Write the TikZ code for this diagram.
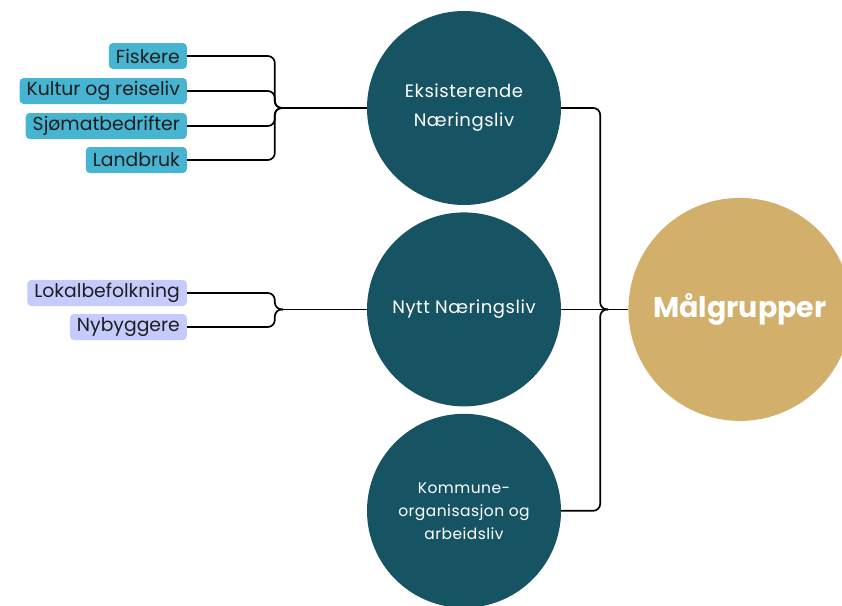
\documentclass[tikz,border=0pt]{standalone}
\usepackage{fontspec}
\setmainfont{Poppins}
\usetikzlibrary{positioning}
\usepackage{xcolor}
\definecolor{petrol}{HTML}{175463}
\definecolor{sand}{HTML}{D2B06C}
\definecolor{sky}{HTML}{47B4D1}
\definecolor{lilac}{HTML}{C5CCFD}
\definecolor{ink}{HTML}{1E1E1E}

\begin{document}
\begin{tikzpicture}[
        x=1pt, y=-1pt,
        node distance=7pt,
        font=\fontsize{18}{29}\selectfont\addfontfeature{LetterSpace=3},
        % Styles
        group/.style={
            circle,
            fill=petrol,
            text=white,
            inner sep=0pt,
            minimum size=194pt,
            align=center
          },
        target/.style={
            circle,
            fill=sand,
            text=white,
            inner sep=0pt,
            minimum size=223pt,
            font=\fontsize{28.5}{30}\selectfont\bfseries
          },
        tag/.style={
            rectangle,
            rounded corners=4pt,
            fill=sky,
            text=ink,
            anchor=east,
            inner xsep=7pt,
            inner ysep=0pt,
            minimum height=26pt,
            font=\fontsize{18.8}{20}\selectfont
          },
        link/.style={
            draw=black,
            line width=1.7pt,
            rounded corners=7pt
          }
      ]
      \useasboundingbox (0,0) rectangle (842,605);

      % Nodes
      % Groups (Middle)
      \node[group] (eks) at (464,108) {Eksisterende \\ Næringsliv};
      \node[group, below=of eks] (nytt) {Nytt Næringsliv};
      \node[group, below=of nytt, font=\fontsize{15.5}{23}\selectfont\addfontfeature{LetterSpace=3}] (kom) {Kommune- \\ organisasjon og \\ arbeidsliv};

      % Target Node (Right)
      \node[target, right=67pt of nytt] (maal) {Målgrupper};

      % Tags (Left)
      \node[tag] (fisk) at (187,56) {Fiskere};
      \node[tag] (kult) at (187,91) {Kultur og reiseliv};
      \node[tag] (sjo) at (187,126) {Sjømatbedrifter};
      \node[tag] (land) at (187,160) {Landbruk};
      \node[tag, fill=lilac] (lokal) at (187,293) {Lokalbefolkning};
      \node[tag, fill=lilac] (nyb) at (187,327) {Nybyggere};

      % Joints
      \path (eks.west) ++(-84,0) coordinate (lknot1) ++(-8,0) coordinate (lbend1);
      \path (nytt.west) ++(-84,0) coordinate (lknot2) ++(-8,0) coordinate (lbend2);
      \path (maal.west) ++(-20,0) coordinate (rknot) ++(-8,0) coordinate (rbend);

      % Links (Left)
      \foreach \t in {fisk, kult, sjo, land}
        \draw[link] (\t.east) -| (lbend1) -- (lknot1);
      \draw[link] (lknot1) -- (eks.west);
      \foreach \t in {lokal, nyb}
        \draw[link] (\t.east) -| (lbend2) -- (lknot2);
      \draw[link] (lknot2) -- (nytt.west);

      % Links (Right)
      \draw[link] (eks.east) -| (rbend) -- (rknot);
      \draw[link] (kom.east) -| (rbend) -- (rknot);
      \draw[link] (nytt.east) -- (maal.west);

    \end{tikzpicture}
\end{document}
